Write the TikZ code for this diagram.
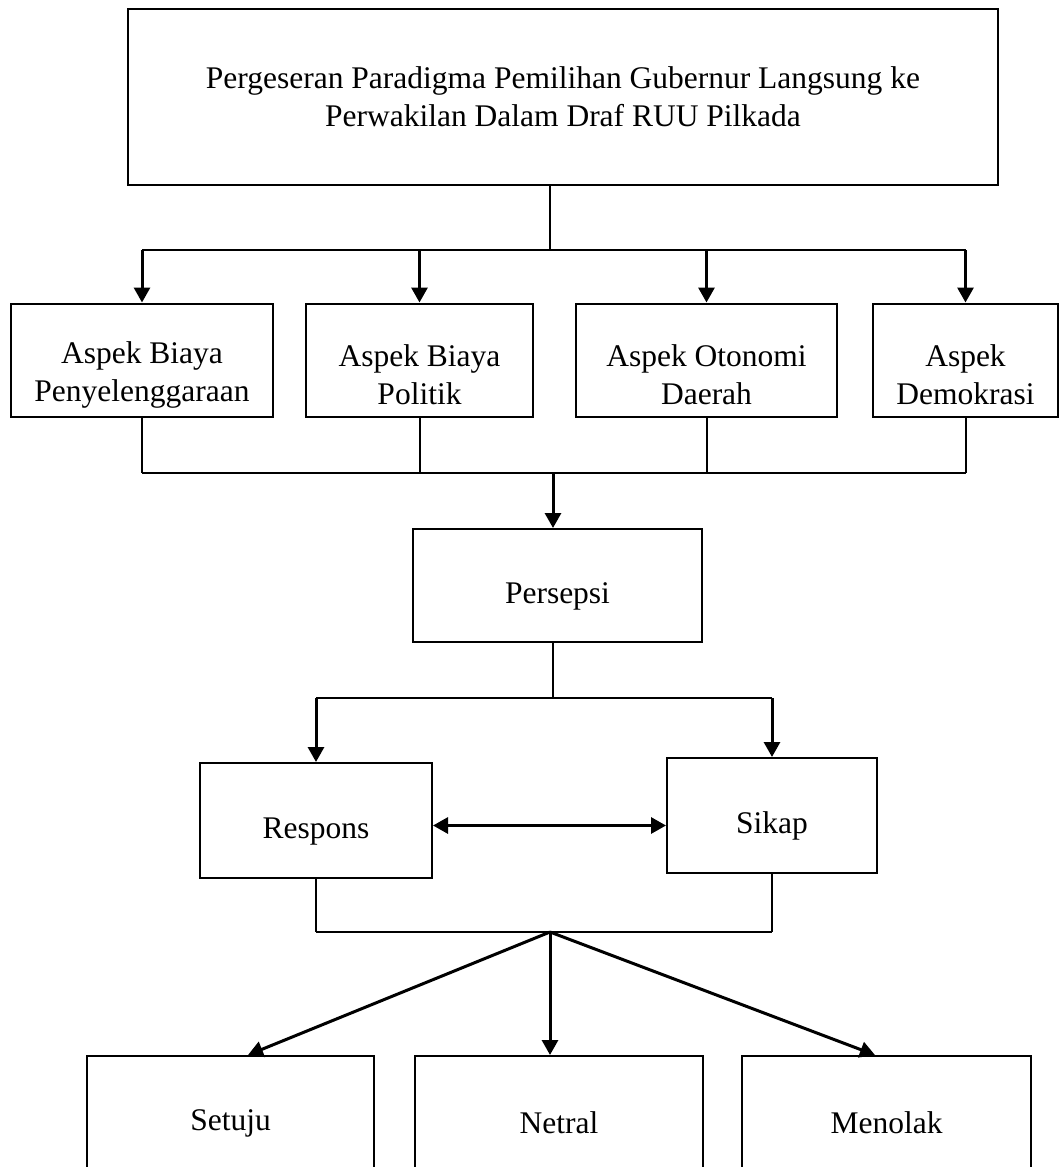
\documentclass[tikz,border=0pt]{standalone}
\usepackage{fontspec}
\setmainfont{Liberation Serif}
\usetikzlibrary{arrows.meta}

\begin{document}
\begin{tikzpicture}[x=0.5pt,y=-0.5pt,
    kotak/.style={draw, line width=1pt, align=center, inner sep=0pt,
      font=\fontsize{15.75}{19}\selectfont},
    garis/.style={line width=1pt},
    panah/.style={line width=1.5pt, -{Triangle[length=7.5pt,width=8pt]}}]
  \useasboundingbox (0,0) rectangle (1060,1167);
  \clip (0,0) rectangle (1060,1167);

  \node[kotak, minimum width=435pt, minimum height=88pt] (judul) at (563,97)
    {Pergeseran Paradigma Pemilihan Gubernur Langsung ke\\
     Perwakilan Dalam Draf RUU Pilkada};

  % aspek
  \foreach \nm/\cx/\w/\teks in {a1/142/131/{Aspek Biaya\\Penyelenggaraan},
      a2/419.5/113.5/{Aspek Biaya\\Politik},
      a3/706.5/130.5/{Aspek Otonomi\\Daerah},
      a4/965.5/92.5/{Aspek\\Demokrasi}}
    \node[kotak, minimum width=\w pt, minimum height=56.5pt] (\nm) at (\cx,360)
      {\rule{0pt}{26pt}\teks};

  \coordinate (cabang) at (550,250);
  \draw[garis] (judul.south -| cabang) -- (cabang);
  \draw[garis] (cabang -| a1) -- (cabang -| a4);
  \foreach \nm in {a1,a2,a3,a4}
    \draw[panah] (cabang -| \nm) -- (\nm.north);

  \node[kotak, minimum width=144.5pt, minimum height=56.5pt] (persepsi) at (557.5,585.5)
    {\rule{0pt}{21pt}Persepsi};

  \coordinate (gabung) at (553,473);
  \foreach \nm in {a1,a2,a3,a4}
    \draw[garis] (\nm.south) -- (gabung -| \nm);
  \draw[garis] (gabung -| a1) -- (gabung -| a4);
  \draw[panah] (gabung) -- (gabung |- persepsi.north);

  \node[kotak, minimum width=116pt, minimum height=57.5pt] (respons) at (316,820.5)
    {\rule{0pt}{21pt}Respons};
  \node[kotak, minimum width=105pt, minimum height=57.5pt] (sikap) at (772,815.5)
    {\rule{0pt}{21pt}Sikap};

  \coordinate (cabang2) at (553,698);
  \draw[garis] (persepsi.south -| cabang2) -- (cabang2);
  \draw[garis] (cabang2 -| respons) -- (cabang2 -| sikap);
  \draw[panah] (cabang2 -| respons) -- (respons.north);
  \draw[panah] (cabang2 -| sikap) -- (sikap.north);
  \draw[panah, {Triangle[length=7.5pt,width=8pt]}-{Triangle[length=7.5pt,width=8pt]}]
    ([yshift=-2.5pt]respons.east) -- ([yshift=-2.5pt]sikap.west |- respons.east);

  % hasil
  \node[kotak, minimum width=143.5pt, minimum height=67pt] (setuju) at (230.5,1123) {Setuju};
  \node[kotak, minimum width=144pt, minimum height=67pt] (netral) at (559,1123) {Netral};
  \node[kotak, minimum width=144.5pt, minimum height=67pt] (menolak) at (886.5,1123) {Menolak};

  \coordinate (gabung2) at (550,932);
  \draw[garis] (respons.south) -- (gabung2 -| respons);
  \draw[garis] (sikap.south) -- (gabung2 -| sikap);
  \draw[garis] (gabung2 -| respons) -- (gabung2 -| sikap);
  \draw[panah] (gabung2) -- ([xshift=8.75pt]setuju.north);
  \draw[panah] (gabung2) -- (netral.north -| gabung2);
  \draw[panah] (gabung2) -- ([xshift=-5.75pt]menolak.north);
\end{tikzpicture}
\end{document}
